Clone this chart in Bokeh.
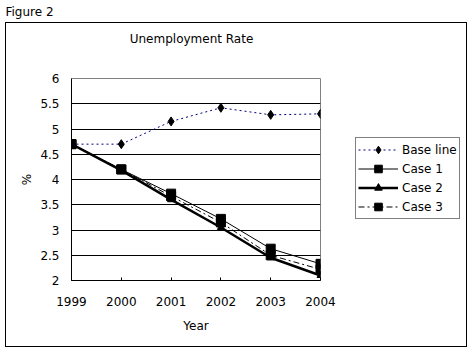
from bokeh.plotting import figure
from bokeh.models import (Legend, LegendItem, FixedTicker, Range1d, Title, InlineStyleSheet,
                          LinearAxis)
from bokeh.embed import file_html
from bokeh.resources import INLINE

# ---- data ----
years = [1999, 2000, 2001, 2002, 2003, 2004]
baseline = [4.70, 4.70, 5.15, 5.42, 5.28, 5.30]
case1 = [4.70, 4.20, 3.72, 3.22, 2.63, 2.33]
case2 = [4.70, 4.18, 3.60, 3.05, 2.45, 2.10]
case3 = [4.70, 4.20, 3.67, 3.15, 2.50, 2.22]
y_ticks = [2, 2.5, 3, 3.5, 4, 4.5, 5, 5.5, 6]
y_tick_labels = ["2", "2.5", "3", "3.5", "4", "4.5", "5", "5.5", "6"]
series_names = ["Base line", "Case 1", "Case 2", "Case 3"]
chart_title = "Unemployment Rate"
figure_caption = "Figure 2"

FONT = "DejaVu Sans"

border_css = InlineStyleSheet(css="""
:host { position: relative; }
:host::after {
  content: ""; position: absolute; left: 5px; top: 22px; width: 462px; height: 325px;
  box-sizing: border-box; border: 1px solid black; pointer-events: none;
}
""")

p = figure(frame_width=249, frame_height=202, output_backend="svg", toolbar_location=None,
           x_range=Range1d(years[0], years[-1]), y_range=Range1d(y_ticks[0], y_ticks[-1]),
           min_border_left=71, min_border_right=151, min_border_top=78, min_border_bottom=74,
           stylesheets=[border_css])
p.background_fill_color = "white"
p.border_fill_color = "white"
p.outline_line_color = "#808080"
p.outline_line_width = 1

xa = p.below[0]
ya = p.left[0]

# axes
xa.ticker = FixedTicker(ticks=years)
ya.ticker = FixedTicker(ticks=y_ticks)
ya.major_label_overrides = {t: l for t, l in zip(y_ticks, y_tick_labels)}
xa.major_label_overrides = {y: str(y) for y in years}
for ax in (xa, ya):
    ax.axis_line_color = "black"
    ax.major_label_text_font = FONT
    ax.major_label_text_font_size = "12px"
    ax.major_label_text_color = "black"
    ax.axis_label_text_font = FONT
    ax.axis_label_text_font_size = "12px"
    ax.axis_label_text_font_style = "normal"
    ax.axis_label_text_color = "black"
    ax.minor_tick_line_color = None
xa.major_tick_in = 3
xa.major_tick_out = 0
xa.major_tick_line_color = "black"
xa.major_label_standoff = 16
xa.axis_label = "Year"
xa.axis_label_standoff = 10
ya.major_tick_in = 0
ya.major_tick_out = 0
ya.major_label_standoff = 12
ya.axis_label = "%"
ya.axis_label_standoff = 3

p.xgrid.grid_line_color = None
p.ygrid.ticker = FixedTicker(ticks=y_ticks[1:-1])
p.ygrid.grid_line_color = "black"
p.ygrid.grid_line_width = 1

# chart title, carried by a bare axis above the frame (centred slightly left of the frame centre)
title_x = (years[0] + years[-1]) / 2 - 0.09
title_axis = LinearAxis(ticker=FixedTicker(ticks=[title_x]),
                        major_label_overrides={title_x: chart_title},
                        axis_line_color=None, major_tick_line_color=None,
                        minor_tick_line_color=None, major_tick_in=0, major_tick_out=0,
                        major_label_standoff=33,
                        major_label_text_font=FONT, major_label_text_font_size="12px",
                        major_label_text_color="black",
                        axis_label=" ", axis_label_standoff=-7,
                        axis_label_text_font=FONT, axis_label_text_font_size="12px")
p.add_layout(title_axis, "above")
p.add_layout(Title(text=figure_caption, align="left", offset=-66, standoff=0,
                   text_font=FONT, text_font_size="12px", text_font_style="normal",
                   text_color="black"), "above")

# series
r_base_l = p.line(years, baseline, line_color="#000080", line_dash="2 3", line_width=1)
r_base_m = p.scatter(years, baseline, marker="diamond", size=9, fill_color="black", line_color="black")
r_c3_l = p.line(years, case3, line_color="black", line_dash="6 3 2 3", line_width=1)
r_c3_m = p.scatter(years, case3, marker="square", size=9, fill_color="black", line_color="black")
r_c1_l = p.line(years, case1, line_color="black", line_width=1)
r_c1_m = p.scatter(years, case1, marker="square", size=9, fill_color="black", line_color="black")
r_c2_l = p.line(years, case2, line_color="black", line_width=2.5)
r_c2_m = p.scatter(years, case2, marker="triangle", size=7, fill_color="black", line_color="black")

legend = Legend(items=[
    LegendItem(label=series_names[0], renderers=[r_base_l, r_base_m]),
    LegendItem(label=series_names[1], renderers=[r_c1_l, r_c1_m]),
    LegendItem(label=series_names[2], renderers=[r_c2_l, r_c2_m]),
    LegendItem(label=series_names[3], renderers=[r_c3_l, r_c3_m]),
], location=(35, 61))
legend.border_line_color = "black"
legend.border_line_width = 1
legend.background_fill_color = "white"
legend.background_fill_alpha = 1
legend.padding = 2
legend.spacing = 0
legend.margin = 0
legend.glyph_width = 40
legend.glyph_height = 19
legend.label_height = 19
legend.label_standoff = 4
legend.label_text_font = FONT
legend.label_text_font_size = "12px"
legend.label_text_color = "black"
p.add_layout(legend, "right")

open("out.html", "w").write(file_html(p, INLINE))
